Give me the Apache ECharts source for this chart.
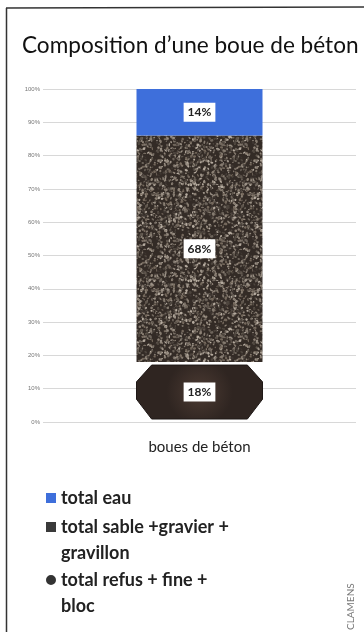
<!DOCTYPE html>
<html><head><meta charset="utf-8">
<script src="https://cdn.jsdelivr.net/npm/echarts@6/dist/echarts.min.js"></script>
<style>html,body{margin:0;padding:0;background:#fff}#c{width:364px;height:632px}</style>
</head><body><div id="c"></div>
<script>
const categories = ['boues de béton'];
const eau = [14];
const sable = [68];
const refus = [18];
const yTicks = [0,10,20,30,40,50,60,70,80,90,100];
const names = ['total eau', 'total sable +gravier +\ngravillon', 'total refus + fine +\nbloc'];

// gravel texture (deterministic)
function gravel() {
  const c = document.createElement('canvas'); c.width = 96; c.height = 96;
  const g = c.getContext('2d');
  g.fillStyle = '#332b26'; g.fillRect(0,0,96,96);
  let s = 12345; const r = () => { s = (s * 1103515245 + 12345) & 0x7fffffff; return s / 0x7fffffff; };
  const cols = ['#6e655c','#857b70','#9a9085','#4d453e','#5f564d','#b5ab9f','#3e3631','#74685c','#8d8276'];
  for (let i = 0; i < 1500; i++) {
    g.fillStyle = cols[Math.floor(r()*cols.length)];
    g.beginPath();
    g.ellipse(r()*96, r()*96, 0.6 + r()*1.2, 0.5 + r()*0.9, r()*3.14, 0, Math.PI*2);
    g.fill();
  }
  return c;
}

const iconSq = 'path://M0,0L0.01,0L0,0.01Z M0,8h10v10h-10z M10,52L9.99,52L10,51.99Z';
const iconCi = 'path://M0,0L0.01,0L0,0.01Z M0,13a5,5 0 1,0 10,0a5,5 0 1,0 -10,0Z M10,52L9.99,52L10,51.99Z';

const chart = echarts.init(document.getElementById('c'));
const lblStyle = {show:true, position:'inside', formatter:'{c}%', backgroundColor:'#fff', color:'#222',
  fontFamily:'Lato', fontWeight:'bold', fontSize:12, padding:[4,4,3,4]};
const legendText = {fontFamily:'Lato', fontSize:18, fontWeight:'bold', color:'#222', lineHeight:26};
chart.setOption({
  animation:false,
  title:{text:'Composition d’une boue de béton', left:17, top:29,
    textStyle:{fontFamily:'Lato', fontSize:22.6, fontWeight:'normal', color:'#111'}},
  grid:{left:43, right:8, top:89, bottom:210},
  xAxis:{type:'category', data:categories, axisLine:{show:false}, axisTick:{show:false},
    axisLabel:{margin:18, fontFamily:'Lato', fontSize:15, color:'#222'}},
  yAxis:{type:'value', min:0, max:100, interval:10,
    axisLabel:{formatter:'{value}%', fontSize:6, color:'#777', margin:3},
    splitLine:{lineStyle:{color:'#d8d8d8', width:1}}},
  legend:[
    {data:[{name:names[0], icon:'rect', itemStyle:{color:'#3e6fdb'}}], left:46, top:485, padding:0, itemWidth:10, itemHeight:10, textStyle:legendText, selectedMode:false},
    {data:[{name:names[1], icon:iconSq, itemStyle:{color:'#3a3a3a'}}], left:46, top:514, padding:0, itemWidth:10, itemHeight:52, textStyle:legendText, selectedMode:false},
    {data:[{name:names[2], icon:iconCi, itemStyle:{color:'#333'}}], left:46, top:567, padding:0, itemWidth:10, itemHeight:52, textStyle:legendText, selectedMode:false}
  ],
  series:[
    {name:'base', type:'bar', stack:'a', barWidth:126, data:refus, itemStyle:{color:'rgba(0,0,0,0)'}, label:lblStyle, z:5},
    {name:names[1], type:'bar', stack:'a', barWidth:126, data:sable, itemStyle:{color:{image:gravel(), repeat:'repeat'}}, label:lblStyle},
    {name:names[0], type:'bar', stack:'a', barWidth:126, data:eau, itemStyle:{color:'#3e6fdb'}, label:lblStyle},
    {name:names[2], type:'custom', data:refus.map((v,i)=>[i,v]), itemStyle:{color:'#3a2d28'}, z:1,
      renderItem:function(params, api){
        const top = api.coord([api.value(0), api.value(1)]);
        const bot = api.coord([api.value(0), 0]);
        const w = 126, cx = top[0], x0 = cx - w/2, x1 = cx + w/2;
        const t = top[1], h = bot[1] - top[1];
        const pts = [[x0+0.12*w, t+0.05*h],[x1-0.12*w, t+0.05*h],[x1, t+0.33*h],[x1, t+0.62*h],
          [x1-0.12*w, t+0.95*h],[x0+0.12*w, t+0.95*h],[x0, t+0.62*h],[x0, t+0.33*h]];
        return {type:'polygon', shape:{points:pts},
          style:{fill:new echarts.graphic.RadialGradient(0.5,0.5,0.6,[{offset:0,color:'#4c3b33'},{offset:1,color:'#2f2521'}]), stroke:'#1e1816', lineWidth:1}};
      }}
  ],
  graphic:[
    {type:'line', shape:{x1:6.5, y1:8, x2:6.5, y2:632}, style:{stroke:'#333', lineWidth:1.5}},
    {type:'line', shape:{x1:6, y1:8, x2:364, y2:7}, style:{stroke:'#333', lineWidth:1.5}},
    {type:'text', x:351, y:630, rotation:Math.PI/2, style:{text:'CLAMENS', fontFamily:'Lato', fontSize:10, fill:'#777', align:'left', verticalAlign:'middle'}}
  ]
});
</script></body></html>
